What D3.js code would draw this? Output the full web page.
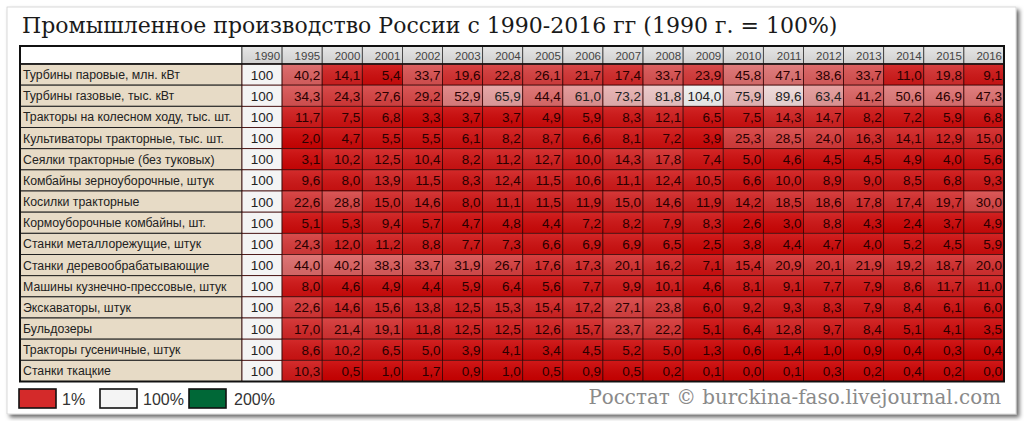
<!DOCTYPE html>
<html>
<head>
<meta charset="utf-8">
<script src="https://cdn.jsdelivr.net/npm/d3@7"></script>
<style>
  html, body { margin: 0; padding: 0; background: #fff; }
  svg { display: block; }
</style>
</head>
<body>
<div id="drawArea"></div>
<script>
// годы (столбцы таблицы)
var years = ["1990","1995","2000","2001","2002","2003","2004","2005","2006","2007","2008","2009","2010","2011","2012","2013","2014","2015","2016"];

// названия строк
var products = [
  "Турбины паровые, млн. кВт",
  "Турбины газовые, тыс. кВт",
  "Тракторы на колесном ходу, тыс. шт.",
  "Культиваторы тракторные, тыс. шт.",
  "Сеялки тракторные (без туковых)",
  "Комбайны зерноуборочные, штук",
  "Косилки тракторные",
  "Кормоуборочные комбайны, шт.",
  "Станки металлорежущие, штук",
  "Станки деревообрабатывающие",
  "Машины кузнечно-прессовые, штук",
  "Экскаваторы, штук",
  "Бульдозеры",
  "Тракторы гусеничные, штук",
  "Станки ткацкие"
];

// значения, % к 1990 г.
var turbSteam   = [100,40.2,14.1,5.4,33.7,19.6,22.8,26.1,21.7,17.4,33.7,23.9,45.8,47.1,38.6,33.7,11.0,19.8,9.1];
var turbGas     = [100,34.3,24.3,27.6,29.2,52.9,65.9,44.4,61.0,73.2,81.8,104.0,75.9,89.6,63.4,41.2,50.6,46.9,47.3];
var tractWheel  = [100,11.7,7.5,6.8,3.3,3.7,3.7,4.9,5.9,8.3,12.1,6.5,7.5,14.3,14.7,8.2,7.2,5.9,6.8];
var cultivators = [100,2.0,4.7,5.5,5.5,6.1,8.2,8.7,6.6,8.1,7.2,3.9,25.3,28.5,24.0,16.3,14.1,12.9,15.0];
var seeders     = [100,3.1,10.2,12.5,10.4,8.2,11.2,12.7,10.0,14.3,17.8,7.4,5.0,4.6,4.5,4.5,4.9,4.0,5.6];
var combGrain   = [100,9.6,8.0,13.9,11.5,8.3,12.4,11.5,10.6,11.1,12.4,10.5,6.6,10.0,8.9,9.0,8.5,6.8,9.3];
var mowers      = [100,22.6,28.8,15.0,14.6,8.0,11.1,11.5,11.9,15.0,14.6,11.9,14.2,18.5,18.6,17.8,17.4,19.7,30.0];
var combForage  = [100,5.1,5.3,9.4,5.7,4.7,4.8,4.4,7.2,8.2,7.9,8.3,2.6,3.0,8.8,4.3,2.4,3.7,4.9];
var metalLathes = [100,24.3,12.0,11.2,8.8,7.7,7.3,6.6,6.9,6.9,6.5,2.5,3.8,4.4,4.7,4.0,5.2,4.5,5.9];
var woodLathes  = [100,44.0,40.2,38.3,33.7,31.9,26.7,17.6,17.3,20.1,16.2,7.1,15.4,20.9,20.1,21.9,19.2,18.7,20.0];
var presses     = [100,8.0,4.6,4.9,4.4,5.9,6.4,5.6,7.7,9.9,10.1,4.6,8.1,9.1,7.7,7.9,8.6,11.7,11.0];
var excavators  = [100,22.6,14.6,15.6,13.8,12.5,15.3,15.4,17.2,27.1,23.8,6.0,9.2,9.3,8.3,7.9,8.4,6.1,6.0];
var bulldozers  = [100,17.0,21.4,19.1,11.8,12.5,12.5,12.6,15.7,23.7,22.2,5.1,6.4,12.8,9.7,8.4,5.1,4.1,3.5];
var tractTrack  = [100,8.6,10.2,6.5,5.0,3.9,4.1,3.4,4.5,5.2,5.0,1.3,0.6,1.4,1.0,0.9,0.4,0.3,0.4];
var looms       = [100,10.3,0.5,1.0,1.7,0.9,1.0,0.5,0.9,0.5,0.2,0.1,0.0,0.1,0.3,0.2,0.4,0.2,0.0];

var rowsData = [turbSteam,turbGas,tractWheel,cultivators,seeders,combGrain,mowers,combForage,
                metalLathes,woodLathes,presses,excavators,bulldozers,tractTrack,looms];

var legendVals = [1, 100, 200];
var legendLabels = ["1%", "100%", "200%"];

var W = 1024, H = 421;

var svg = d3.select("#drawArea").append("svg")
  .attr("width", W).attr("height", H);

var defs = svg.append("defs");
var f = defs.append("filter").attr("id", "shadow").attr("x", "-5%").attr("y", "-5%").attr("width", "110%").attr("height", "115%");
f.append("feDropShadow").attr("dx", 3).attr("dy", 3).attr("stdDeviation", 2).attr("flood-color", "#000").attr("flood-opacity", 0.6);

var gloss = defs.append("linearGradient").attr("id", "gloss").attr("x1", 0).attr("y1", 0).attr("x2", 0).attr("y2", 1);
gloss.append("stop").attr("offset", "0%").attr("stop-color", "#fff").attr("stop-opacity", 0.1);
gloss.append("stop").attr("offset", "100%").attr("stop-color", "#000").attr("stop-opacity", 0.06);

var hdrGrad = defs.append("linearGradient").attr("id", "hdr").attr("x1", 0).attr("y1", 0).attr("x2", 0).attr("y2", 1);
hdrGrad.append("stop").attr("offset", "0%").attr("stop-color", "#e6e6e6");
hdrGrad.append("stop").attr("offset", "100%").attr("stop-color", "#cfcfcf");

// панель
svg.append("rect")
  .attr("x", 7).attr("y", 7).attr("width", 1009).attr("height", 407)
  .attr("fill", "#fff").attr("stroke", "#d0d0d0").attr("stroke-width", 0.8)
  .attr("filter", "url(#shadow)");

// подгонка текста под ширину
function fitText(sel, size, width) {
  sel.attr("font-size", size);
  var w = sel.node().getComputedTextLength();
  sel.attr("font-size", size * width / w);
}

// заголовок
var title = svg.append("text")
  .attr("x", 22).attr("y", 33)
  .attr("font-family", "'DejaVu Serif', serif")
  .attr("fill", "#1a1a1a")
  .text("Промышленное производство России с 1990-2016 гг (1990 г. = 100%)");
fitText(title, 24, 816);

// шкалы
var tableLeft = 20, labelRight = 242, tableRight = 1004;
var headTop = 46, headBottom = 64, tableBottom = 381.5;

var x = d3.scaleBand().domain(years).range([labelRight, tableRight]).padding(0);
var y = d3.scaleBand().domain(products).range([headBottom, tableBottom]).padding(0);

var color = d3.scaleLinear()
  .domain([1, 100, 110, 200])
  .range(["#cc0000", "#f4f4f4", "#f0f2f0", "#006837"])
  .clamp(true);

var fmt = function(v){ return d3.format(".1f")(v).replace(".", ","); };

// шапка
var head = svg.append("g");
head.append("rect")
  .attr("x", tableLeft).attr("y", headTop)
  .attr("width", labelRight - tableLeft).attr("height", headBottom - headTop)
  .attr("fill", "#fff").attr("stroke", "#222").attr("stroke-width", 1);
head.selectAll("rect.yr").data(years).enter().append("rect")
  .attr("class", "yr")
  .attr("x", function(d){ return x(d); }).attr("y", headTop)
  .attr("width", x.bandwidth()).attr("height", headBottom - headTop)
  .attr("fill", "url(#hdr)").attr("stroke", "#333").attr("stroke-width", 0.8);
head.selectAll("text.yr").data(years).enter().append("text")
  .attr("class", "yr")
  .attr("x", function(d){ return x(d) + x.bandwidth() - 2; })
  .attr("y", headBottom - 4.5)
  .attr("text-anchor", "end")
  .attr("font-family", "'Liberation Sans', Arial, sans-serif")
  .attr("font-size", 11.5).attr("fill", "#444")
  .text(function(d){ return d; });

// строки
var rows = svg.selectAll("g.row").data(products).enter().append("g")
  .attr("class", "row")
  .attr("transform", function(d){ return "translate(0," + y(d) + ")"; });

rows.append("rect")
  .attr("x", tableLeft).attr("width", labelRight - tableLeft)
  .attr("height", y.bandwidth())
  .attr("fill", "#e7dbc6").attr("stroke", "#222").attr("stroke-width", 1);

rows.append("text")
  .attr("x", tableLeft + 3).attr("y", y.bandwidth() / 2 + 4.5)
  .attr("font-family", "'Liberation Sans', Arial, sans-serif")
  .attr("font-size", 12.3).attr("fill", "#222")
  .text(function(d){ return d; });

var cells = rows.selectAll("g.cell")
  .data(function(d, i){ return rowsData[i].map(function(v, j){ return {year: years[j], v: v}; }); })
  .enter().append("g").attr("class", "cell");

cells.append("rect")
  .attr("x", function(d){ return x(d.year); })
  .attr("width", x.bandwidth()).attr("height", y.bandwidth())
  .attr("fill", function(d){ return color(Math.max(d.v, 1)); })
  .attr("stroke", "#3a0000").attr("stroke-width", 0.8);

cells.filter(function(d){ return d.year !== "1990"; }).append("rect")
  .attr("x", function(d){ return x(d.year); })
  .attr("width", x.bandwidth()).attr("height", y.bandwidth())
  .attr("fill", "url(#gloss)").attr("pointer-events", "none");

cells.append("text")
  .attr("x", function(d){ return d.year === "1990" ? x(d.year) + x.bandwidth() / 2 : x(d.year) + x.bandwidth() - 2; })
  .attr("y", y.bandwidth() / 2 + 5)
  .attr("text-anchor", function(d){ return d.year === "1990" ? "middle" : "end"; })
  .attr("font-family", "'Liberation Sans', Arial, sans-serif")
  .attr("font-size", 13.5)
  .attr("fill", function(d){ return d.v > 60 ? "#222" : "#2a0000"; })
  .text(function(d){ return d.year === "1990" ? "100" : fmt(d.v); });

// внешняя рамка
svg.append("rect")
  .attr("x", tableLeft).attr("y", headTop)
  .attr("width", tableRight - tableLeft).attr("height", tableBottom - headTop)
  .attr("fill", "none").attr("stroke", "#111").attr("stroke-width", 2);
svg.append("line")
  .attr("x1", tableLeft).attr("x2", tableRight)
  .attr("y1", headBottom).attr("y2", headBottom)
  .attr("stroke", "#111").attr("stroke-width", 1.5);

// легенда
var legX = [19, 100, 189];
var leg = svg.selectAll("g.leg").data(legendVals).enter().append("g")
  .attr("class", "leg")
  .attr("transform", function(d, i){ return "translate(" + legX[i] + ",389)"; });
leg.append("rect")
  .attr("width", 37).attr("height", 19)
  .attr("fill", function(d){ return d === 1 ? "#d42a2a" : color(d); })
  .attr("stroke", "#111").attr("stroke-width", 1.6);
leg.append("text")
  .attr("x", function(d, i){ return i === 2 ? 45 : 43; }).attr("y", 15.5)
  .attr("font-family", "'Liberation Sans', Arial, sans-serif")
  .attr("font-size", 16).attr("fill", "#333")
  .text(function(d, i){ return legendLabels[i]; });

// источник
var src = svg.append("text")
  .attr("x", 1001).attr("y", 404)
  .attr("text-anchor", "end")
  .attr("font-family", "'DejaVu Serif', serif")
  .attr("fill", "#8a8a8a")
  .text("Росстат © burckina-faso.livejournal.com");
fitText(src, 17, 413);
</script>
</body>
</html>
